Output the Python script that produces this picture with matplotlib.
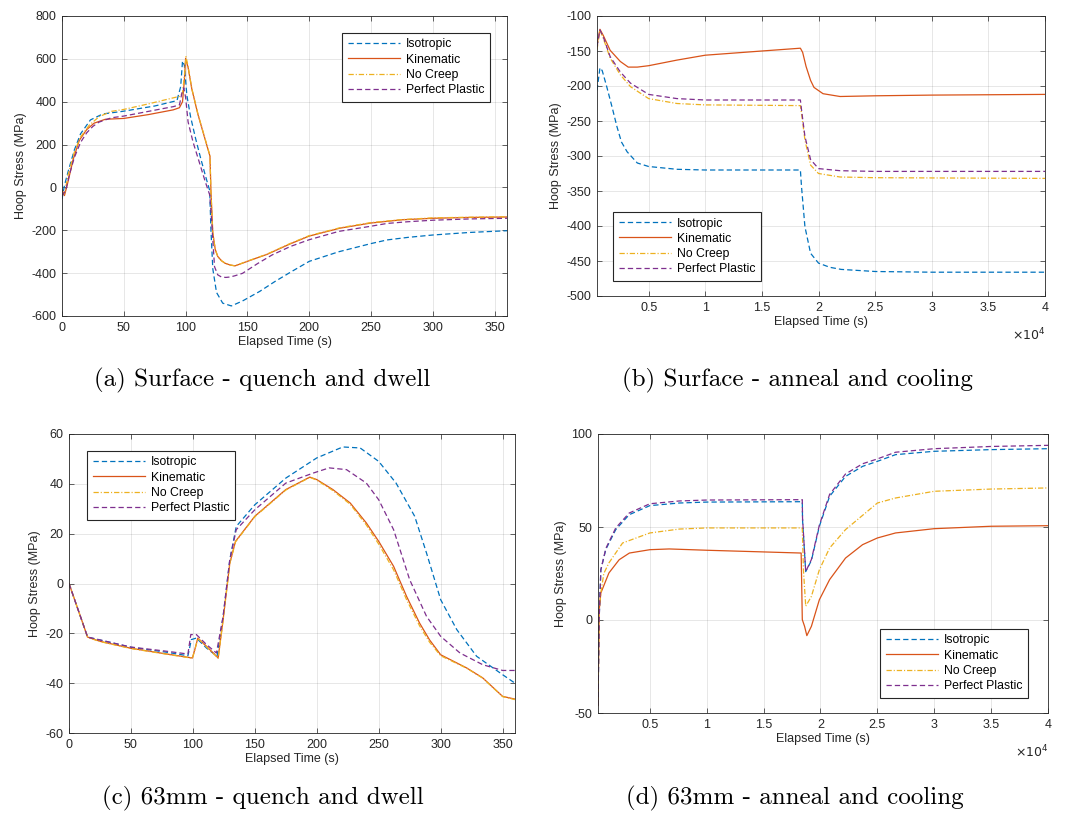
import matplotlib
matplotlib.use("Agg")
import matplotlib.pyplot as plt
from matplotlib.ticker import FuncFormatter

# ---- (a) Surface - quench and dwell ----
a_iso_t = [0, 2, 5, 10, 15, 23, 33, 49, 75, 93, 96, 97.5, 99, 101, 104, 108, 112, 116, 119.5,
           120.5, 122, 125, 130, 137, 146, 160, 172, 185, 200, 224, 250, 263, 280, 300, 330, 360]
a_iso_s = [-55, 10, 75, 175, 250, 315, 343, 355, 380, 405, 470, 590, 570, 430, 330, 230, 140, 55, -15,
           -200, -380, -490, -540, -553, -530, -485, -440, -395, -345, -300, -262, -245, -233, -222, -210, -202]
a_kin_t = [0, 2, 5, 9, 14, 20, 26, 35, 50, 70, 90, 95, 97.5, 99, 100, 102, 105, 110, 115, 119.7,
           120.5, 122, 124, 126, 129, 132, 136, 140, 150, 166, 184, 200, 225, 250, 275, 300, 330, 360]
a_kin_s = [-10, -38, 30, 130, 220, 270, 300, 318, 322, 340, 362, 372, 400, 500, 602, 560, 460, 340, 240, 146,
           -20, -213, -290, -322, -342, -354, -362, -366, -345, -312, -265, -227, -190, -166, -151, -144, -140, -138]
a_noc_t = [0, 2, 5, 10, 15, 22, 30, 40, 50, 70, 90, 95, 97.5, 99, 100.3, 102, 105, 110, 115, 119.7,
           120.5, 122, 124, 126, 129, 132, 136, 140, 150, 166, 184, 200, 225, 250, 275, 300, 330, 360]
a_noc_s = [-30, -30, 60, 165, 235, 290, 330, 355, 364, 390, 418, 425, 440, 520, 610, 565, 462, 342, 242, 148,
           -20, -213, -290, -322, -342, -354, -362, -366, -344, -311, -263, -225, -188, -164, -150, -142, -139, -137]
a_pp_t = [0, 3, 6, 10, 15, 20, 25, 30, 40, 50, 70, 90, 95, 97, 98.5, 100, 102, 106, 111, 116, 119.5,
          121, 122, 123.4, 126, 129, 132.5, 136, 140, 146, 158.6, 170, 185, 200, 224, 250, 263, 280, 300, 330, 360]
a_pp_s = [-40, -15, 60, 140, 210, 255, 285, 305, 325, 333, 355, 377, 385, 440, 465, 420, 306, 212, 119, 25, -35,
          -150, -244, -370, -408, -418, -420, -418, -412, -401, -354, -315, -275, -244, -205, -181, -168, -160, -153, -147, -144]

# ---- (b) Surface - anneal and cooling ----
b_iso_t = [440, 700, 900, 1300, 1800, 2200, 2600, 3100, 4000, 5000, 7500, 10000, 18400, 18500, 18800,
           19300, 20000, 21000, 22000, 25000, 30000, 40000]
b_iso_s = [-206, -174, -178, -201, -232, -258, -280, -294, -310, -315, -319, -320, -320, -344, -401,
           -439, -453, -459, -462, -465, -466, -466]
b_kin_t = [440, 700, 1000, 1600, 2500, 3200, 4000, 5000, 7500, 10000, 15000, 18400, 18600, 18900,
           19300, 19600, 20400, 21900, 25000, 30000, 40000]
b_kin_s = [-140, -119, -128, -149, -165, -173, -173, -171, -163, -156, -150, -146, -152, -172,
           -192, -202, -211, -215, -214, -213, -212]
b_noc_t = [440, 700, 1000, 1600, 2500, 3400, 5000, 7500, 10000, 18400, 18500, 18800, 19300, 20000,
           21900, 25000, 40000]
b_noc_s = [-148, -120, -132, -160, -184, -201, -218, -225, -227, -228, -239, -277, -313, -325,
           -330, -331, -332]
b_pp_t = [440, 700, 1000, 1600, 2500, 3400, 5000, 7500, 10000, 18400, 18500, 18800, 19300, 20000,
          21900, 25000, 40000]
b_pp_s = [-144, -120, -130, -158, -180, -196, -212, -218, -220, -220, -234, -272, -305, -318,
          -321, -322, -322]

# ---- (c) 63mm - quench and dwell ----
c_iso_t = [0, 15, 50, 79, 96, 98.8, 102.8, 111, 119.5, 124.4, 129.8, 135, 150, 175, 200, 221, 235,
           250, 264, 279, 288.6, 300, 313, 329, 350, 360]
c_iso_s = [0, -21.5, -25.6, -27.6, -29, -22.5, -21.9, -25.9, -29.2, -13.2, 9.6, 22.9, 31.6, 42.3, 50.4,
           54.8, 54.4, 49, 40.3, 27, 12.2, -6.5, -18.5, -29.2, -36.6, -40]
c_kin_t = [0, 15, 25, 50, 79, 99.6, 101.5, 104, 111, 120.4, 124.4, 129.8, 134.4, 150, 175, 194.4, 200,
           213, 227, 240, 250, 262, 272.5, 283, 291, 300, 321, 334, 350, 360]
c_kin_s = [0, -21.5, -23.2, -26, -28.3, -29.9, -26.6, -21.9, -25.2, -29.9, -14.5, 8.2, 16.9, 27, 37.7,
           42.7, 41.7, 37.7, 32.3, 24.3, 16.9, 6.9, -5.2, -15.9, -22.6, -28.6, -33.9, -37.9, -45.3, -46.4]
c_noc_t = c_kin_t
c_noc_s = [0, -21.6, -23.3, -26.1, -28.4, -30, -26.8, -22, -25.4, -30, -14.6, 8, 16.7, 26.8, 37.5,
           42.6, 41.5, 37.3, 31.8, 23.5, 15.8, 5.5, -6.5, -17, -23.5, -29, -34, -38, -45.4, -46.6]
c_pp_t = [0, 15, 50, 79, 96, 98.3, 102.8, 111, 119, 124.4, 129.8, 135, 150, 175, 197, 210, 224, 240,
          250, 262, 275, 288.6, 300, 315.6, 334, 350, 360]
c_pp_s = [0, -21.5, -25.5, -27.2, -28.3, -20.5, -20.5, -24.5, -27.9, -13.2, 9.6, 21.6, 29.6, 40.3, 44.3,
          46.4, 45.7, 40.3, 33.6, 21.6, 1.5, -13.2, -21.2, -27.9, -32.6, -34.9, -34.9]

# ---- (d) 63mm - anneal and cooling ----
d_iso_t = [440, 540, 690, 1130, 2000, 3180, 5000, 7600, 10000, 18400, 18420, 18700, 19200, 19900,
           20800, 22200, 23700, 25000, 26600, 30000, 35000, 40000]
d_iso_s = [-46, 0, 27, 38, 48.6, 56.6, 61.5, 62.9, 63.4, 63.6, 54, 26, 32, 50.4,
           66.5, 77.2, 82.6, 85.3, 88.9, 90.7, 91.6, 92.1]
d_pp_t = d_iso_t
d_pp_s = [-46, 0, 27, 38.5, 49.5, 57.5, 62.5, 64, 64.5, 64.7, 55, 26, 32.5, 51,
          67.5, 78.5, 84, 86.6, 90.2, 92.1, 93.3, 93.9]
d_noc_t = [440, 540, 690, 950, 1400, 2600, 5000, 7600, 10000, 18400, 18500, 18700, 19200, 19900,
           20800, 22200, 25000, 26600, 30000, 35000, 40000]
d_noc_s = [-46, 5, 14.5, 25, 30.7, 41.4, 46.8, 48.9, 49.5, 49.5, 27, 7.4, 12.7, 27,
           38.7, 48.6, 62.9, 65.6, 69.2, 70.4, 71]
d_kin_t = [440, 540, 690, 1400, 2300, 3200, 5000, 6700, 10000, 15000, 18300, 18400, 18600, 18800,
           19200, 19900, 20800, 22200, 23700, 25000, 26600, 30000, 35000, 40000]
d_kin_s = [-46, 5, 14.5, 25.3, 32.4, 36, 37.8, 38.2, 37.5, 36.6, 36, 0.2, -3.4, -8.4,
           -3.4, 10.9, 21.7, 33.3, 40.5, 44.1, 46.8, 49.1, 50.4, 50.7]

labels = ["Isotropic", "Kinematic", "No Creep", "Perfect Plastic"]
colors = ["#0072BD", "#D95319", "#EDB120", "#7E2F8E"]
styles = [(0, (3.8, 2.2)), "-", (0, (3.8, 1.4, 0.8, 1.4)), (0, (3.8, 2.2))]

captions = ["(a) Surface - quench and dwell", "(b) Surface - anneal and cooling",
            "(c) 63mm - quench and dwell", "(d) 63mm - anneal and cooling"]

plt.rcParams['font.family'] = ['Liberation Sans', 'DejaVu Sans']
plt.rcParams['axes.unicode_minus'] = False
plt.rcParams['lines.scale_dashes'] = False

fig = plt.figure(figsize=(10.66, 8.15), dpi=100)

# axes boxes in pixels: left, top, right, bottom
boxes = [(62, 16, 507, 316), (597, 16, 1045, 296), (69, 434, 515, 733), (598, 434, 1048, 713)]
W, H = 1066, 815


def make_ax(box):
    l, t, r, b = box
    ax = fig.add_axes([l / W, 1 - b / H, (r - l) / W, (b - t) / H])
    for sp in ax.spines.values():
        sp.set_color("#262626")
        sp.set_linewidth(0.6)
    ax.tick_params(direction="in", top=True, right=True, length=3.5, width=0.5,
                   labelsize=9, colors="#262626", pad=4)
    ax.grid(True, color="#262626", alpha=0.13, linewidth=0.6)
    ax.set_xlabel("Elapsed Time (s)", fontsize=9, color="#262626", labelpad=2)
    ax.set_ylabel("Hoop Stress (MPa)", fontsize=9, color="#262626", labelpad=3)
    return ax


panel_data = [
    [(a_iso_t, a_iso_s), (a_kin_t, a_kin_s), (a_noc_t, a_noc_s), (a_pp_t, a_pp_s)],
    [(b_iso_t, b_iso_s), (b_kin_t, b_kin_s), (b_noc_t, b_noc_s), (b_pp_t, b_pp_s)],
    [(c_iso_t, c_iso_s), (c_kin_t, c_kin_s), (c_noc_t, c_noc_s), (c_pp_t, c_pp_s)],
    [(d_iso_t, d_iso_s), (d_kin_t, d_kin_s), (d_noc_t, d_noc_s), (d_pp_t, d_pp_s)],
]

axes = []
for i, box in enumerate(boxes):
    ax = make_ax(box)
    for (t, s), lab, col, ls in zip(panel_data[i], labels, colors, styles):
        ax.plot(t, s, color=col, linestyle=ls, linewidth=0.9, label=lab)
    axes.append(ax)

# limits and ticks
axes[0].set_xlim(0, 360)
axes[0].set_ylim(-600, 800)
axes[0].set_xticks(range(0, 351, 50))
axes[0].set_yticks(range(-600, 801, 200))

axes[1].set_xlim(440, 40000)
axes[1].set_ylim(-500, -100)
axes[1].set_yticks(range(-500, -99, 50))

axes[2].set_xlim(0, 360)
axes[2].set_ylim(-60, 60)
axes[2].set_xticks(range(0, 351, 50))
axes[2].set_yticks(range(-60, 61, 20))

axes[3].set_xlim(440, 40000)
axes[3].set_ylim(-50, 100)
axes[3].set_yticks([-50, 0, 50, 100])

for ax in (axes[1], axes[3]):
    ax.set_xticks([5000 * k for k in range(1, 9)])
    ax.xaxis.set_major_formatter(FuncFormatter(lambda v, p: ("%g" % (v / 1e4))))
    ax.text(1.0, -0.11, r"$\times10^{4}$", transform=ax.transAxes, ha="right", va="top",
            fontsize=9, color="#262626")

# legends (positions in pixel of upper-left corner)
leg_pos = [(342, 33), (613, 212), (87, 451), (880, 629)]
for ax, (lx, ly) in zip(axes, leg_pos):
    leg = ax.legend(loc="upper left", bbox_to_anchor=(lx / W, 1 - ly / H),
                    bbox_transform=fig.transFigure, fontsize=8.8, handlelength=4.3,
                    handletextpad=0.5, borderpad=0.45, labelspacing=0.26, borderaxespad=0,
                    fancybox=False, framealpha=1)
    leg.get_frame().set_edgecolor("#262626")
    leg.get_frame().set_linewidth(0.8)

# captions
cap_pos = [(262, 380), (797, 380), (263, 798), (795, 798)]
for (cx, cy), cap in zip(cap_pos, captions):
    fig.text(cx / W, 1 - cy / H, cap, ha="center", va="center", fontsize=18,
             family=["cmr10", "DejaVu Serif"])

plt.savefig("out.png", dpi=100)
